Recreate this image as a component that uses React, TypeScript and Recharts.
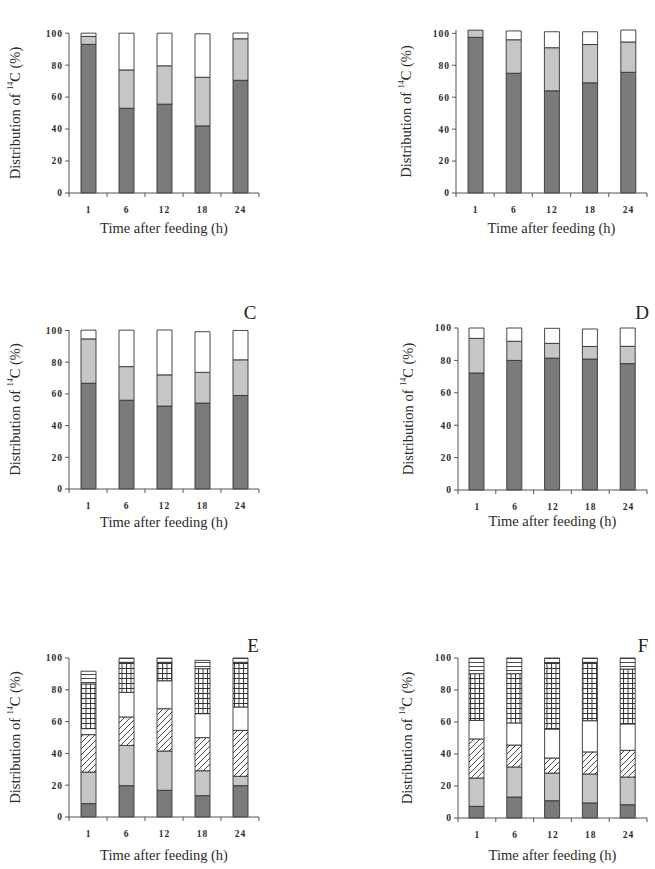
import React from 'react';
import { BarChart, Bar, XAxis, YAxis, Label } from 'recharts';

const hours = ['1', '6', '12', '18', '24'];
const yTicks = [0, 20, 40, 60, 80, 100];

// panel A
const aDark = [93, 53, 55.6, 42, 70.5];
const aLight = [5, 24, 24, 30.4, 26];
const aWhite = [2, 23, 20.4, 27.2, 3.6];

// panel B
const bDark = [97.5, 75, 64, 69, 75.6];
const bLight = [4.5, 21, 27, 24, 19];
const bWhite = [0, 5.5, 10, 8, 7.5];

// panel C
const cDark = [66.7, 56, 52.3, 54.2, 59];
const cLight = [28, 21.2, 19.7, 19.4, 22.5];
const cWhite = [5.5, 23, 28.3, 25.6, 18.5];

// panel D
const dDark = [72.2, 80, 81.4, 80.8, 78];
const dLight = [21.4, 11.8, 9.1, 7.8, 10.7];
const dWhite = [6.4, 8.2, 9.3, 10.8, 11.3];

// panel E
const eDark = [8.4, 19.7, 16.8, 13.4, 19.7];
const eLight = [19.9, 25.3, 24.7, 15.7, 5.9];
const eHatch = [23.5, 17.9, 26.6, 20.8, 28.9];
const eWhite = [3.8, 15.5, 17.6, 15.1, 14.7];
const eGrid = [28.1, 18.9, 11.6, 28.3, 28.1];
const eStripes = [8.0, 2.7, 2.7, 5.2, 2.7];

// panel F
const fDark = [7.3, 13.1, 10.8, 9.4, 8.3];
const fLight = [17.7, 18.8, 17.3, 18.1, 17.3];
const fHatch = [24.4, 13.7, 9.4, 13.8, 16.7];
const fWhite = [11.6, 13.8, 18.1, 19.5, 16.5];
const fGrid = [29.2, 30.8, 41.3, 36.5, 34.3];
const fStripes = [9.8, 9.8, 3.1, 2.7, 6.9];

const DARK = '#7b7b7b';
const LIGHT = '#c6c6c6';
const EDGE = '#333';
const AXIS = '#555';
const TEXT = '#2a2a2a';
const SERIF = '"Liberation Serif", "Times New Roman", serif';

const threeFills = [DARK, LIGHT, '#ffffff'];
const sixFills = [DARK, LIGHT, 'url(#hatchPat)', '#ffffff', 'url(#gridPat)', 'url(#stripePat)'];

const makeRows = (cols: number[][]) =>
  hours.map((h, i) => {
    const row: Record<string, number | string> = { hour: h };
    cols.forEach((c, k) => (row['s' + k] = c[i]));
    return row;
  });

const TICK_SIZE = 4;
const TICK_MARGIN = 9;
const tickFont = { fontFamily: SERIF, fontWeight: 'bold', fontSize: 9.5, letterSpacing: 1 };

const XTick = (props: any) => {
  const { x, y, payload, index } = props;
  const half = payload.offset ?? 19;
  const y1 = y - TICK_MARGIN - TICK_SIZE;
  const y2 = y - TICK_MARGIN;
  return (
    <g>
      <line x1={x - half} x2={x - half} y1={y1} y2={y2} stroke={AXIS} />
      {index === hours.length - 1 && <line x1={x + half} x2={x + half} y1={y1} y2={y2} stroke={AXIS} />}
      <text x={x + 0.5} y={y} dy="0.71em" textAnchor="middle" fill={TEXT} {...tickFont}>
        {payload.value}
      </text>
    </g>
  );
};

interface PanelProps {
  rows: Record<string, number | string>[];
  fills: string[];
  axisX: number;
  plotTop: number;
  plotBottom: number;
  plotRight: number;
  yLabelGap: number;
  xLabelGap: number;
}

const Panel = ({ rows, fills, axisX, plotTop, plotBottom, plotRight, yLabelGap, xLabelGap }: PanelProps) => {
  const left = axisX - 69;
  const top = plotTop - 20;
  const width = plotRight - left + 8;
  const height = plotBottom - top + 50;
  return (
    <div style={{ position: 'absolute', left, top }}>
      <BarChart width={width} height={height} data={rows} margin={{ top: 20, right: 8, left: 5, bottom: 5 }} barSize={15}>
        <XAxis
          dataKey="hour"
          height={45}
          interval={0}
          axisLine={{ stroke: AXIS }}
          tickLine={false}
          tickSize={TICK_SIZE}
          tickMargin={TICK_MARGIN}
          tick={<XTick />}
        >
          <Label
            content={(p: any) => {
              const vb = p.viewBox;
              return (
                <text x={vb.x + vb.width / 2} y={vb.y + xLabelGap} textAnchor="middle" dominantBaseline="central" fontFamily={SERIF} fontSize={14.5} fill={TEXT}>
                  Time after feeding (h)
                </text>
              );
            }}
          />
        </XAxis>
        <YAxis
          width={64}
          domain={[0, 100]}
          ticks={yTicks}
          interval={0}
          axisLine={{ stroke: AXIS }}
          tickLine={{ stroke: AXIS }}
          tickSize={TICK_SIZE}
          tickMargin={2}
          tick={{ fill: TEXT, ...tickFont }}
        >
          <Label
            content={(p: any) => {
              const vb = p.viewBox;
              const cx = vb.x + vb.width - yLabelGap;
              const cy = vb.y + vb.height / 2;
              return (
                <text x={cx} y={cy} transform={`rotate(-90 ${cx} ${cy})`} textAnchor="middle" dominantBaseline="central" fontFamily={SERIF} fontSize={14.5} fill={TEXT}>
                  Distribution of <tspan dy={-5} fontSize={8}>14</tspan>
                  <tspan dy={5}>C (%)</tspan>
                </text>
              );
            }}
          />
        </YAxis>
        {fills.map((f, k) => (
          <Bar key={k} dataKey={'s' + k} stackId="a" fill={f} stroke={EDGE} strokeWidth={0.9} isAnimationActive={false} />
        ))}
      </BarChart>
    </div>
  );
};

const Letter = ({ text, x, y }: { text: string; x: number; y: number }) => (
  <div style={{ position: 'absolute', left: x, top: y, transform: 'translate(-50%, -50%)', fontFamily: SERIF, fontSize: 19, lineHeight: 1, color: '#222' }}>
    {text}
  </div>
);

export default function App() {
  return (
    <div style={{ position: 'absolute', left: 0, top: 0, width: 655, height: 869, background: '#fff', overflow: 'hidden' }}>
      <svg width={0} height={0} style={{ position: 'absolute' }}>
        <defs>
          <pattern id="hatchPat" patternUnits="userSpaceOnUse" width={6} height={6}>
            <rect width={6} height={6} fill="#fff" />
            <path d="M0,6 L6,0 M-1.5,1.5 L1.5,-1.5 M4.5,7.5 L7.5,4.5" stroke={EDGE} strokeWidth={0.9} />
          </pattern>
          <pattern id="gridPat" patternUnits="userSpaceOnUse" width={4.5} height={5}>
            <rect width={4.5} height={5} fill="#fff" />
            <path d="M0,0.5 L4.5,0.5 M0.5,0 L0.5,5" stroke={EDGE} strokeWidth={1} />
          </pattern>
          <pattern id="stripePat" patternUnits="userSpaceOnUse" width={4} height={4}>
            <rect width={4} height={4} fill="#fff" />
            <path d="M0,0.5 L4,0.5" stroke={EDGE} strokeWidth={0.9} />
          </pattern>
        </defs>
      </svg>
      <Panel rows={makeRows([aDark, aLight, aWhite])} fills={threeFills} axisX={69} plotTop={33} plotBottom={193} plotRight={259} yLabelGap={54} xLabelGap={35} />
      <Panel rows={makeRows([bDark, bLight, bWhite])} fills={threeFills} axisX={456} plotTop={30} plotBottom={193} plotRight={647} yLabelGap={50} xLabelGap={35} />
      <Panel rows={makeRows([cDark, cLight, cWhite])} fills={threeFills} axisX={69} plotTop={330} plotBottom={489} plotRight={259} yLabelGap={54} xLabelGap={33} />
      <Panel rows={makeRows([dDark, dLight, dWhite])} fills={threeFills} axisX={458} plotTop={328} plotBottom={490} plotRight={647} yLabelGap={50} xLabelGap={31} />
      <Panel rows={makeRows([eDark, eLight, eHatch, eWhite, eGrid, eStripes])} fills={sixFills} axisX={69} plotTop={658} plotBottom={817} plotRight={259} yLabelGap={54} xLabelGap={38} />
      <Panel rows={makeRows([fDark, fLight, fHatch, fWhite, fGrid, fStripes])} fills={sixFills} axisX={458} plotTop={658} plotBottom={818} plotRight={647} yLabelGap={51} xLabelGap={37} />
      <Letter text="C" x={250} y={312} />
      <Letter text="D" x={642} y={312} />
      <Letter text="E" x={253} y={645} />
      <Letter text="F" x={643} y={645} />
    </div>
  );
}
